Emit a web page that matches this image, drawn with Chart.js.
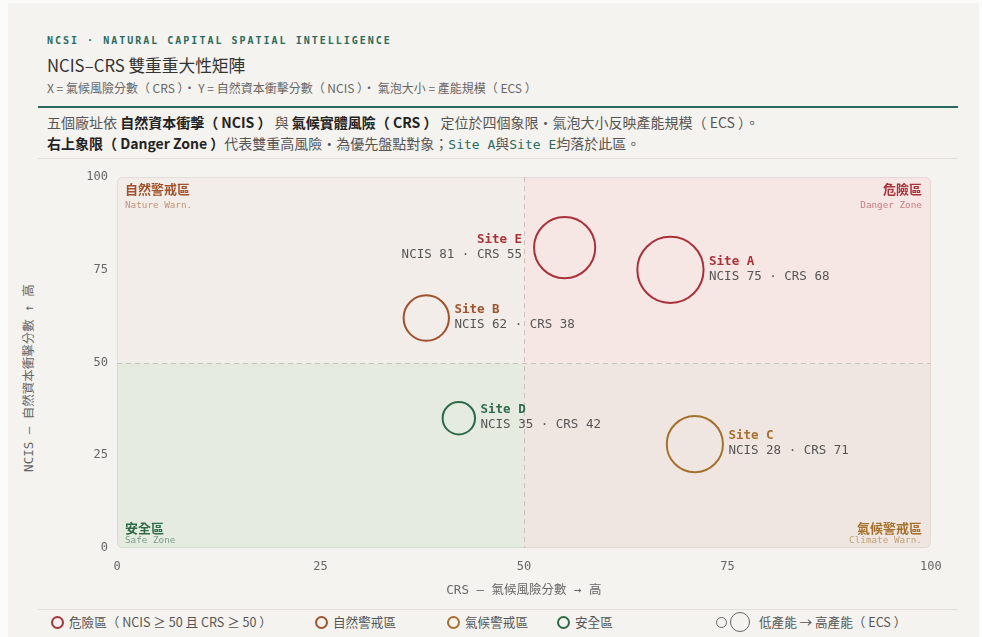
<!DOCTYPE html>
<html lang="zh-Hant-TW"><head><meta charset="utf-8">
<script src="https://cdn.jsdelivr.net/npm/chart.js@4/dist/chart.umd.min.js"></script>
<style>
html,body{margin:0;padding:0;background:#fbfbfa;width:982px;height:637px;overflow:hidden;}
.card{position:absolute;left:8px;top:3px;width:971px;height:650px;background:#f5f3ef;}
.abs{position:absolute;white-space:pre;}
.cjk{font-family:"Noto Sans CJK TC","Noto Sans",sans-serif;}
#kicker{left:47px;top:34px;font:bold 10px "DejaVu Sans Mono",monospace;letter-spacing:2px;color:#2a6b5e;line-height:14px;}
#title{left:47px;top:53px;font-size:16.7px;line-height:24px;color:#333;}
#sub{left:47px;top:79px;font-size:12px;line-height:18px;color:#666;}
.rule{position:absolute;left:38px;width:920px;}
#para{left:47px;top:112px;font-size:14px;line-height:21px;color:#555;}
#para b{color:#222;font-weight:bold;}
#para .m{font-family:"DejaVu Sans Mono",monospace;color:#2a6b5e;font-size:13px;}
#ytitle{left:27px;top:378px;transform:translate(-50%,-50%) rotate(-90deg);font:12.5px "DejaVu Sans Mono","Noto Sans CJK TC",monospace;color:#666;}
#chartbox{position:absolute;left:10px;top:142px;width:956px;height:463px;}
.lg{position:absolute;top:612px;font-size:12.6px;line-height:20px;color:#555;display:flex;align-items:center;white-space:pre;}
.dot{display:inline-block;border-radius:50%;border:2px solid;box-sizing:border-box;}
</style></head>
<body>
<div class="card"></div>
<div id="kicker" class="abs">NCSI · NATURAL CAPITAL SPATIAL INTELLIGENCE</div>
<div id="title" class="abs cjk">NCIS–CRS 雙重重大性矩陣</div>
<div id="sub" class="abs cjk">X = 氣候風險分數（ CRS ）· Y = 自然資本衝擊分數（ NCIS ）· 氣泡大小 = 產能規模（ ECS ）</div>
<div class="rule" style="top:106px;height:2px;background:#2a6b5e;"></div>
<div id="para" class="abs cjk">五個廠址依 <b>自然資本衝擊（ NCIS ）</b> 與 <b>氣候實體風險（ CRS ）</b> 定位於四個象限・氣泡大小反映產能規模（ ECS ）。<br><b>右上象限（ Danger Zone ）</b>代表雙重高風險・為優先盤點對象；<span class="m">Site A</span>與<span class="m">Site E</span>均落於此區。</div>
<div class="rule" style="top:158px;height:1px;background:#e2ded8;"></div>
<div id="ytitle" class="abs">NCIS — 自然資本衝擊分數 ↑ 高</div>
<div id="chartbox"><canvas id="c"></canvas></div>
<div class="rule" style="top:609px;height:1px;background:#e2ded8;"></div>
<div class="lg cjk" style="left:51px;"><span class="dot" style="width:13px;height:13px;border-color:#a8323a;margin-right:5px;"></span>危險區（ NCIS ≥ 50 且 CRS ≥ 50 ）</div>
<div class="lg cjk" style="left:315px;"><span class="dot" style="width:13px;height:13px;border-color:#a0522d;margin-right:5px;"></span>自然警戒區</div>
<div class="lg cjk" style="left:447px;"><span class="dot" style="width:13px;height:13px;border-color:#a4702c;margin-right:5px;"></span>氣候警戒區</div>
<div class="lg cjk" style="left:557px;"><span class="dot" style="width:13px;height:13px;border-color:#2f6b48;margin-right:5px;"></span>安全區</div>
<div class="lg cjk" style="left:716px;"><span class="dot" style="width:11px;height:11px;border-color:#666;border-width:1.5px;margin-right:3px;"></span><span class="dot" style="width:20px;height:20px;border-color:#666;border-width:1.5px;margin-right:9px;"></span>低產能 → 高產能（ ECS ）</div>
<script>
// ---- data ----
const sites = ['Site A', 'Site B', 'Site C', 'Site D', 'Site E'];
const crs   = [68, 38, 71, 42, 55];      // X: climate risk score
const ncis  = [75, 62, 28, 35, 81];      // Y: natural capital impact score
const ecs   = [92, 63, 78, 45, 85];      // capacity scale (bubble size)
const zones = ['danger', 'nature', 'climate', 'safe', 'danger'];
const ticks = [0, 25, 50, 75, 100];
const threshold = 50;

const zoneColor = {danger:'#a8323a', nature:'#a0522d', climate:'#a4702c', safe:'#2f6b48'};
const quadFill  = {danger:'#f6e6e4', nature:'#f2ede9', climate:'#f0e6e1', safe:'#e5ecdf'};
const quadText = [
  {zone:'nature',  cn:'自然警戒區', en:'Nature Warn.',  h:'left',  v:'top'},
  {zone:'danger',  cn:'危險區',     en:'Danger Zone',   h:'right', v:'top'},
  {zone:'safe',    cn:'安全區',     en:'Safe Zone',     h:'left',  v:'bottom'},
  {zone:'climate', cn:'氣候警戒區', en:'Climate Warn.', h:'right', v:'bottom'}
];

const monoFont = '"DejaVu Sans Mono", monospace';
const cjkFont = '"Noto Sans CJK TC", "Noto Sans", sans-serif';

function rr(ctx, x, y, w, h, r){
  ctx.beginPath();
  ctx.moveTo(x+r, y); ctx.lineTo(x+w-r, y); ctx.arcTo(x+w, y, x+w, y+r, r);
  ctx.lineTo(x+w, y+h-r); ctx.arcTo(x+w, y+h, x+w-r, y+h, r);
  ctx.lineTo(x+r, y+h); ctx.arcTo(x, y+h, x, y+h-r, r);
  ctx.lineTo(x, y+r); ctx.arcTo(x, y, x+r, y, r); ctx.closePath();
}

const quadPlugin = {
  id:'quads',
  beforeDatasetsDraw(chart){
    const {ctx, chartArea:a, scales:{x, y}} = chart;
    const mx = x.getPixelForValue(threshold), my = y.getPixelForValue(threshold);
    ctx.save();
    rr(ctx, a.left, a.top, a.right-a.left, a.bottom-a.top, 5);
    ctx.clip();
    ctx.fillStyle = quadFill.nature;  ctx.fillRect(a.left, a.top, mx-a.left, my-a.top);
    ctx.fillStyle = quadFill.danger;  ctx.fillRect(mx, a.top, a.right-mx, my-a.top);
    ctx.fillStyle = quadFill.safe;    ctx.fillRect(a.left, my, mx-a.left, a.bottom-my);
    ctx.fillStyle = quadFill.climate; ctx.fillRect(mx, my, a.right-mx, a.bottom-my);
    ctx.restore();
    ctx.save();
    rr(ctx, a.left+0.5, a.top+0.5, a.right-a.left-1, a.bottom-a.top-1, 5);
    ctx.strokeStyle = 'rgba(0,0,0,0.07)'; ctx.lineWidth = 1; ctx.stroke();
    ctx.setLineDash([5,4]); ctx.strokeStyle = '#c8c0ba'; ctx.lineWidth = 1;
    ctx.beginPath(); ctx.moveTo(Math.round(mx)+0.5, a.top); ctx.lineTo(Math.round(mx)+0.5, a.bottom); ctx.stroke();
    ctx.beginPath(); ctx.moveTo(a.left, Math.round(my)+0.5); ctx.lineTo(a.right, Math.round(my)+0.5); ctx.stroke();
    ctx.setLineDash([]);
    quadText.forEach(q => {
      const xx = q.h === 'left' ? a.left + 8 : a.right - 9;
      const y1 = q.v === 'top' ? a.top + 12 : a.bottom - 20;
      const y2 = q.v === 'top' ? a.top + 28 : a.bottom - 7;
      ctx.textAlign = q.h; ctx.textBaseline = 'middle';
      ctx.fillStyle = zoneColor[q.zone];
      ctx.font = 'bold 13px ' + cjkFont;
      ctx.fillText(q.cn, xx, y1);
      ctx.globalAlpha = 0.6;
      ctx.font = '9.3px ' + monoFont;
      ctx.fillText(q.en, xx, y2);
      ctx.globalAlpha = 1;
    });
    ctx.restore();
  }
};

const labelPlugin = {
  id:'siteLabels',
  afterDatasetsDraw(chart){
    const {ctx} = chart;
    const meta = chart.getDatasetMeta(0);
    ctx.save();
    meta.data.forEach((el, i) => {
      const r = el.options.radius;
      const left = sites[i] === 'Site E';
      const tx = left ? el.x - r - 12 : el.x + r + 5.5;
      ctx.textAlign = left ? 'right' : 'left';
      ctx.textBaseline = 'middle';
      ctx.font = 'bold 12.5px ' + monoFont;
      ctx.fillStyle = zoneColor[zones[i]];
      ctx.fillText(sites[i], tx, el.y - 8);
      ctx.font = '12.5px ' + monoFont;
      ctx.fillStyle = '#555';
      ctx.fillText('NCIS ' + ncis[i] + ' · CRS ' + crs[i], tx, el.y + 7);
    });
    ctx.restore();
  }
};

new Chart(document.getElementById('c'), {
  type:'bubble',
  data:{
    datasets:[{
      data: sites.map((s, i) => ({x: crs[i], y: ncis[i], r: ecs[i] * 0.36})),
      backgroundColor: 'rgba(0,0,0,0)',
      borderColor: zones.map(z => zoneColor[z]),
      borderWidth: 2,
      hoverBorderWidth: 2
    }]
  },
  options:{
    responsive:true, maintainAspectRatio:false, animation:false, events:[],
    layout:{padding:0},
    plugins:{legend:{display:false}, tooltip:{enabled:false}},
    scales:{
      x:{
        min:0, max:100,
        afterFit(s){ s.height = 57; },
        afterBuildTicks(s){ s.ticks = ticks.map(v => ({value:v})); },
        grid:{display:false, drawTicks:false},
        border:{display:false},
        ticks:{padding:12, font:{family:monoFont, size:12}, color:'#666', maxRotation:0},
        title:{display:true, text:'CRS — 氣候風險分數 → 高', color:'#666',
               font:{family:'"DejaVu Sans Mono", "Noto Sans CJK TC", monospace', size:12.5}, padding:{top:0, bottom:6.5}}
      },
      y:{
        min:0, max:100,
        afterFit(s){ s.width = 107; },
        afterBuildTicks(s){ s.ticks = ticks.map(v => ({value:v})); },
        grid:{display:false, drawTicks:false},
        border:{display:false},
        ticks:{padding:9, font:{family:monoFont, size:12}, color:'#666'},
        title:{display:false}
      }
    }
  },
  plugins:[quadPlugin, labelPlugin]
});
</script>
</body></html>
